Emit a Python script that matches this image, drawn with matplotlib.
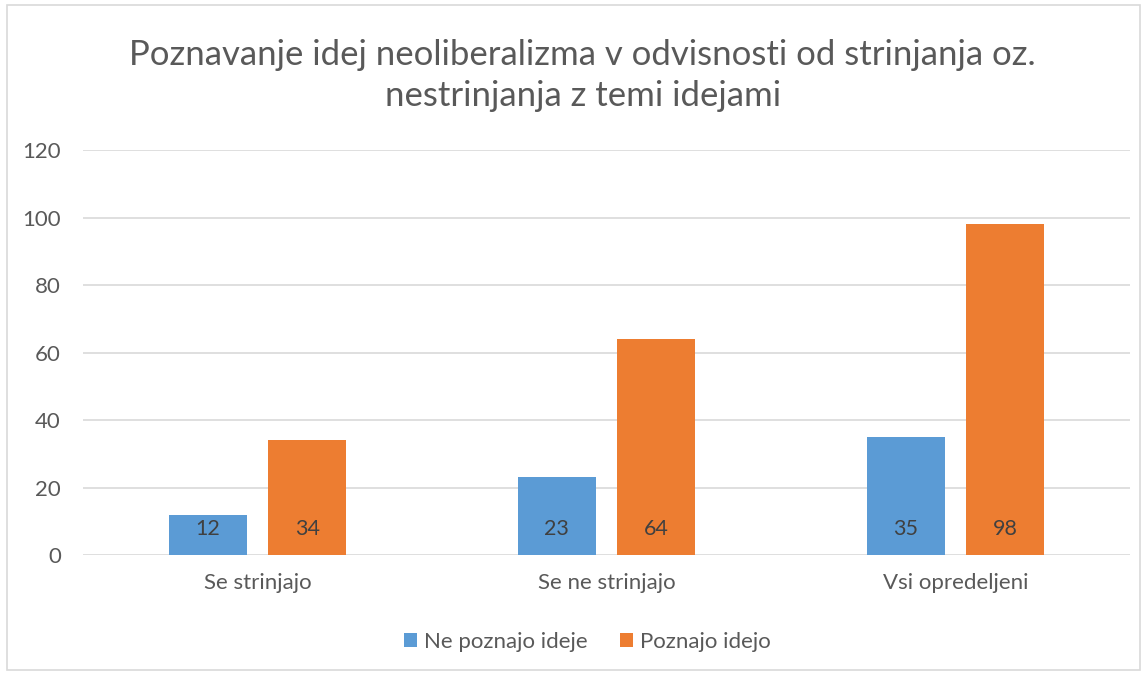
import matplotlib
matplotlib.use("Agg")
import matplotlib.pyplot as plt
from matplotlib.patches import Rectangle
import numpy as np

categories = ["Se strinjajo", "Se ne strinjajo", "Vsi opredeljeni"]
ne_poznajo = [12, 23, 35]
poznajo = [34, 64, 98]
series_names = ["Ne poznajo ideje", "Poznajo idejo"]
y_ticks = [0, 20, 40, 60, 80, 100, 120]
title = "Poznavanje idej neoliberalizma v odvisnosti od strinjanja oz.\nnestrinjanja z temi idejami"

BLUE = "#5B9BD5"
ORANGE = "#ED7D31"
TEXT = "#595959"
GRID = "#D9D9D9"

plt.rcParams["font.family"] = ["Lato", "DejaVu Sans"]

fig = plt.figure(figsize=(11.45, 6.73), dpi=100)
ax = fig.add_axes([0.0725, 0.1753, 0.9145, 0.6017])

x = np.arange(len(categories))
w = 0.2235
off = 0.1425
b1 = ax.bar(x - off, ne_poznajo, w, color=BLUE, label=series_names[0], zorder=3)
b2 = ax.bar(x + off, poznajo, w, color=ORANGE, label=series_names[1], zorder=3)

# labels sit just above the base, like Excel "inside base"
for bars, vals in ((b1, ne_poznajo), (b2, poznajo)):
    for r, v in zip(bars, vals):
        ax.annotate(str(v), (r.get_x() + r.get_width() / 2, 0),
                    xytext=(0, 19), textcoords="offset points",
                    ha="center", va="center", fontsize=15.5, color="#404040", zorder=4)

ax.set_xlim(-0.5, 2.5)
ax.set_ylim(0, 120)
ax.set_yticks(y_ticks)
ax.set_xticks(x)
ax.set_xticklabels(categories)
ax.tick_params(axis="both", length=0, labelsize=16, labelcolor=TEXT)
ax.tick_params(axis="y", pad=16)
ax.tick_params(axis="x", pad=13)
ax.yaxis.grid(True, color=GRID, linewidth=1.2, zorder=0)
for s in ax.spines.values():
    s.set_visible(False)

fig.text(0.509, 0.888, title, ha="center", va="center", fontsize=25,
         color=TEXT, linespacing=1.32)

fig.legend(loc="center", bbox_to_anchor=(0.513, 0.046), ncol=2, frameon=False,
           fontsize=16, labelcolor=TEXT, handlelength=0.6, handleheight=0.6,
           handletextpad=0.3, columnspacing=1.45)

fig.patches.append(Rectangle((0.006, 0.004), 0.99, 0.989, transform=fig.transFigure,
                             fill=False, edgecolor=GRID, linewidth=1.2))

fig.savefig("out.png", dpi=100)
